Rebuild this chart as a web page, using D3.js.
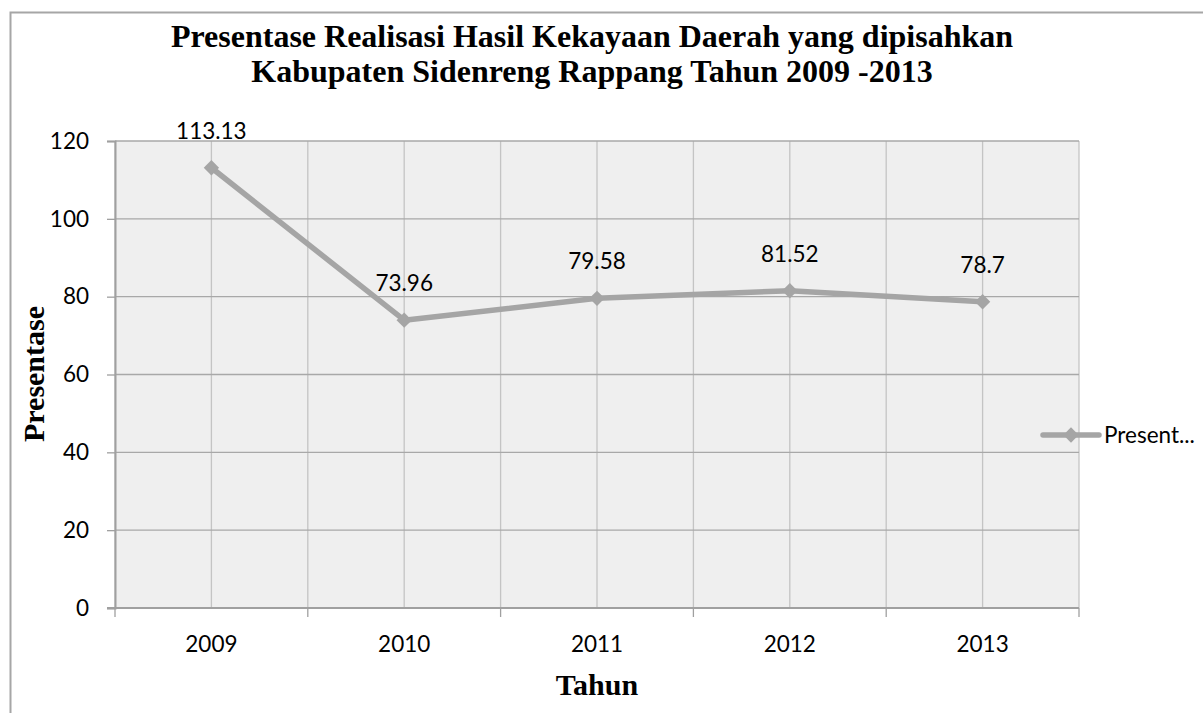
<!DOCTYPE html>
<html>
<head>
<meta charset="utf-8">
<script src="https://cdn.jsdelivr.net/npm/d3@7"></script>
<style>
  html, body { margin: 0; padding: 0; background: #fff; }
  svg { display: block; }
</style>
</head>
<body>
<svg id="chart" width="1203" height="713"></svg>
<script>
// Realisasi Hasil Kekayaan Daerah yang dipisahkan, Kab. Sidenreng Rappang
const years = ["2009", "2010", "2011", "2012", "2013"];
const percentages = [113.13, 73.96, 79.58, 81.52, 78.7];
const yTicks = [0, 20, 40, 60, 80, 100, 120];
const titleLines = [
  "Presentase Realisasi Hasil Kekayaan Daerah yang dipisahkan",
  "Kabupaten Sidenreng Rappang Tahun 2009 -2013"
];
const seriesName = "Presentase";

const svg = d3.select("#chart");
const sansFont = "Lato, 'Open Sans', sans-serif";
const serifFont = "'Liberation Serif', 'DejaVu Serif', serif";
const labelSize = 22.5;

const plot = { left: 115, right: 1079, top: 141, bottom: 608 };

// outer chart frame (left and top edges visible)
svg.append("path")
  .attr("d", "M10.5,713 L10.5,12.5 L1203,12.5")
  .attr("fill", "none")
  .attr("stroke", "#a6a6a6")
  .attr("stroke-width", 2);

const x = d3.scaleBand().domain(years).range([plot.left, plot.right]).padding(0);
const y = d3.scaleLinear().domain([0, 120]).range([plot.bottom, plot.top]);

// plot area background
svg.append("rect")
  .attr("x", plot.left).attr("y", plot.top)
  .attr("width", plot.right - plot.left).attr("height", plot.bottom - plot.top)
  .attr("fill", "#efefef");

// vertical gridlines at category centres and boundaries
const vLines = [];
years.forEach(d => { vLines.push(x(d)); vLines.push(x(d) + x.bandwidth() / 2); });
vLines.push(plot.right);
svg.append("g").selectAll("line").data(vLines).join("line")
  .attr("x1", d => d).attr("x2", d => d)
  .attr("y1", plot.top).attr("y2", plot.bottom)
  .attr("stroke", "#c4c4c4").attr("stroke-width", 1.3);

// horizontal gridlines
svg.append("g").selectAll("line").data(yTicks.filter(v => v > 0)).join("line")
  .attr("x1", plot.left).attr("x2", plot.right)
  .attr("y1", d => y(d)).attr("y2", d => y(d))
  .attr("stroke", "#a8a8a8").attr("stroke-width", 1.3);

// y axis
const yAxis = svg.append("g")
  .attr("transform", `translate(${plot.left},0)`)
  .call(d3.axisLeft(y).tickValues(yTicks).tickSize(8).tickPadding(18));
yAxis.select(".domain").attr("stroke", "#a0a0a0").attr("stroke-width", 2);
yAxis.selectAll(".tick line").attr("stroke", "#a0a0a0").attr("stroke-width", 1.3);
yAxis.selectAll(".tick text")
  .attr("font-family", sansFont).attr("font-size", labelSize).attr("fill", "#000");

// x axis: ticks at category boundaries, labels at centres
const xAxisG = svg.append("g").attr("transform", `translate(0,${plot.bottom})`);
xAxisG.append("line")
  .attr("x1", plot.left - 8).attr("x2", plot.right)
  .attr("stroke", "#a0a0a0").attr("stroke-width", 2);
const boundaries = years.map(d => x(d)).concat([plot.right]);
xAxisG.selectAll("line.tk").data(boundaries).join("line")
  .attr("class", "tk")
  .attr("x1", d => d).attr("x2", d => d)
  .attr("y1", 0).attr("y2", 9)
  .attr("stroke", "#a0a0a0").attr("stroke-width", 1.3);
xAxisG.selectAll("text").data(years).join("text")
  .attr("x", d => x(d) + x.bandwidth() / 2)
  .attr("y", 44)
  .attr("text-anchor", "middle")
  .attr("font-family", sansFont).attr("font-size", labelSize)
  .text(d => d);

// series line
const cx = d => x(d) + x.bandwidth() / 2;
const data = years.map((d, i) => ({ year: d, value: percentages[i] }));
const lineColor = "#a5a5a5";
svg.append("path")
  .datum(data)
  .attr("fill", "none")
  .attr("stroke", lineColor)
  .attr("stroke-width", 5.5)
  .attr("stroke-linejoin", "round")
  .attr("d", d3.line().x(d => cx(d.year)).y(d => y(d.value)));

// diamond markers
const diamond = d3.symbol().type(d3.symbolDiamond2).size(150);
svg.append("g").selectAll("path").data(data).join("path")
  .attr("transform", d => `translate(${cx(d.year)},${y(d.value)})`)
  .attr("d", diamond)
  .attr("fill", lineColor);

// value labels
svg.append("g").selectAll("text").data(data).join("text")
  .attr("x", d => cx(d.year))
  .attr("y", d => y(d.value) - 29)
  .attr("text-anchor", "middle")
  .attr("font-family", sansFont).attr("font-size", labelSize)
  .text(d => String(d.value));

// titles
svg.append("g").selectAll("text").data(titleLines).join("text")
  .attr("x", 592)
  .attr("y", (d, i) => 47 + i * 35)
  .attr("text-anchor", "middle")
  .style("font-family", serifFont)
  .style("font-weight", "bold")
  .style("font-size", "32px")
  .text(d => d);

svg.append("text")
  .attr("transform", "translate(44,374) rotate(-90)")
  .attr("text-anchor", "middle")
  .style("font-family", serifFont).style("font-weight", "bold").style("font-size", "30px")
  .text("Presentase");

svg.append("text")
  .attr("x", 597).attr("y", 695)
  .attr("text-anchor", "middle")
  .style("font-family", serifFont).style("font-weight", "bold").style("font-size", "30px")
  .text("Tahun");

// legend
const lg = svg.append("g").attr("transform", "translate(1043,435)");
lg.append("line").attr("x1", 0).attr("x2", 56).attr("y1", 0).attr("y2", 0)
  .attr("stroke", lineColor).attr("stroke-width", 5.5).attr("stroke-linecap", "round");
lg.append("path").attr("transform", "translate(28,0)").attr("d", diamond).attr("fill", lineColor);
lg.append("text").attr("x", 61).attr("y", 8)
  .attr("font-family", sansFont).attr("font-size", labelSize)
  .text(seriesName.slice(0, 7) + "...");
</script>
</body>
</html>
